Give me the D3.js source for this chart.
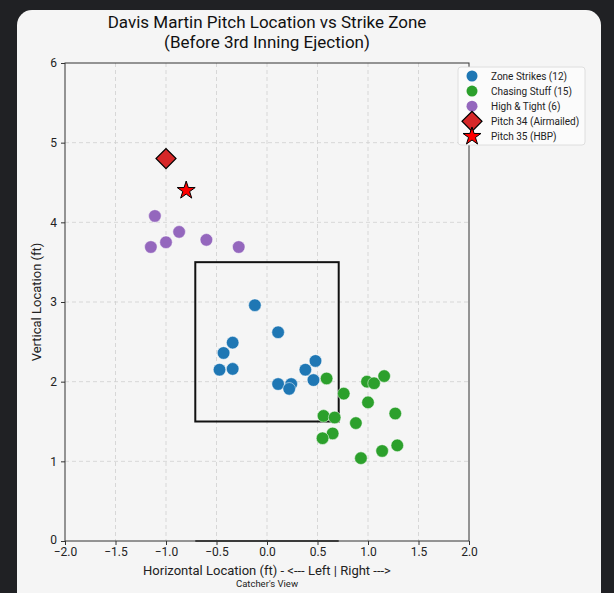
<!DOCTYPE html>
<html>
<head>
<meta charset="utf-8">
<script src="https://cdn.jsdelivr.net/npm/d3@7"></script>
<style>
  html, body { margin: 0; padding: 0; background: #202124; }
  svg { display: block; font-family: Roboto, "Noto Sans", sans-serif; }
</style>
</head>
<body>
<div id="chart"></div>
<script>
// pitch locations (ft)
var zoneX = [-0.12, 0.11, -0.34, -0.43, -0.47, -0.34, 0.11, 0.24, 0.22, 0.38, 0.48, 0.46];
var zoneY = [2.96, 2.62, 2.49, 2.36, 2.15, 2.16, 1.97, 1.97, 1.91, 2.15, 2.26, 2.02];
var chaseX = [0.59, 0.99, 1.06, 1.16, 0.76, 1.00, 1.27, 0.56, 0.67, 0.88, 0.65, 0.55, 1.29, 1.14, 0.93];
var chaseY = [2.04, 2.00, 1.98, 2.07, 1.85, 1.74, 1.60, 1.57, 1.55, 1.48, 1.35, 1.29, 1.20, 1.13, 1.04];
var highX = [-1.11, -1.15, -1.00, -0.87, -0.60, -0.28];
var highY = [4.08, 3.69, 3.75, 3.88, 3.78, 3.69];
var pitch34 = [-1.0, 4.8];
var pitch35 = [-0.8, 4.4];
var zoneBox = { left: -0.71, right: 0.71, bottom: 1.5, top: 3.5 };
var xTicks = [-2.0, -1.5, -1.0, -0.5, 0.0, 0.5, 1.0, 1.5, 2.0];
var yTicks = [0, 1, 2, 3, 4, 5, 6];
var legendLabels = ["Zone Strikes (12)", "Chasing Stuff (15)", "High & Tight (6)", "Pitch 34 (Airmailed)", "Pitch 35 (HBP)"];

function init() {
  var W = 614, H = 593;
  var m = { left: 65, right: 145, top: 63, bottom: 52 };
  var w = W - m.left - m.right;
  var h = H - m.top - m.bottom;

  var svg = d3.select("#chart").append("svg")
    .attr("width", W).attr("height", H);

  // light panel on dark page
  svg.append("rect")
    .attr("x", 17).attr("y", 10)
    .attr("width", 584).attr("height", 600)
    .attr("rx", 15).attr("fill", "#f5f5f5");

  var x = d3.scaleLinear().domain([-2, 2]).range([0, w]);
  var y = d3.scaleLinear().domain([0, 6]).range([h, 0]);

  var g = svg.append("g").attr("transform", "translate(" + m.left + "," + m.top + ")");

  // grid
  g.append("g").selectAll("line").data(xTicks.slice(1, -1)).enter().append("line")
    .attr("x1", function(d) { return x(d); }).attr("x2", function(d) { return x(d); })
    .attr("y1", 0).attr("y2", h)
    .attr("stroke", "#cfcfcf").attr("stroke-dasharray", "4,3").attr("stroke-width", 0.8);
  g.append("g").selectAll("line").data(yTicks.slice(1, -1)).enter().append("line")
    .attr("y1", function(d) { return y(d); }).attr("y2", function(d) { return y(d); })
    .attr("x1", 0).attr("x2", w)
    .attr("stroke", "#cfcfcf").attr("stroke-dasharray", "4,3").attr("stroke-width", 0.8);

  // strike zone
  g.append("rect")
    .attr("x", x(zoneBox.left)).attr("y", y(zoneBox.top))
    .attr("width", x(zoneBox.right) - x(zoneBox.left))
    .attr("height", y(zoneBox.bottom) - y(zoneBox.top))
    .attr("fill", "none").attr("stroke", "#111").attr("stroke-width", 2);

  // home plate
  g.append("line")
    .attr("x1", x(zoneBox.left)).attr("x2", x(zoneBox.right))
    .attr("y1", y(0)).attr("y2", y(0))
    .attr("stroke", "#444").attr("stroke-width", 2);

  // axes
  var xAxis = d3.axisBottom(x).tickValues(xTicks).tickFormat(d3.format(".1f")).tickSize(4).tickSizeOuter(0);
  var yAxis = d3.axisLeft(y).tickValues(yTicks).tickFormat(d3.format("d")).tickSize(4).tickSizeOuter(0);
  var gx = g.append("g").attr("transform", "translate(0," + h + ")").call(xAxis);
  var gy = g.append("g").call(yAxis);
  [gx, gy].forEach(function(a) {
    a.select(".domain").remove();
    a.selectAll("text").attr("font-size", 12).attr("fill", "#222")
      .attr("font-family", "Roboto, sans-serif");
    a.selectAll("line").attr("stroke", "#333");
  });
  gx.selectAll("text").attr("dy", "0.7em")
    .text(function(d) { return d3.format(".1f")(d).replace("-", "\u2212"); });
  gy.selectAll("text").attr("x", -8)
    .attr("dy", function(d) { return d === 0 ? "0.2em" : "0.32em"; });
  g.append("rect").attr("x", 0).attr("y", 0).attr("width", w).attr("height", h)
    .attr("fill", "none").attr("stroke", "#333").attr("stroke-width", 1);

  function pts(xs, ys) { return xs.map(function(v, i) { return [v, ys[i]]; }); }
  var groups = [
    { data: pts(zoneX, zoneY), color: "#1f77b4" },
    { data: pts(chaseX, chaseY), color: "#2ca02c" },
    { data: pts(highX, highY), color: "#9467bd" }
  ];
  groups.forEach(function(s) {
    g.append("g").selectAll("circle").data(s.data).enter().append("circle")
      .attr("cx", function(d) { return x(d[0]); })
      .attr("cy", function(d) { return y(d[1]); })
      .attr("r", 6.3)
      .attr("fill", s.color).attr("stroke", "#fff").attr("stroke-width", 0.5);
  });

  var diamond = d3.symbol().type(d3.symbolSquare).size(200);
  var star = d3.symbol().type(d3.symbolStar).size(100);

  g.append("path").attr("d", diamond())
    .attr("transform", "translate(" + x(pitch34[0]) + "," + y(pitch34[1]) + ") rotate(45)")
    .attr("fill", "#d62728").attr("stroke", "#000").attr("stroke-width", 1.2);
  g.append("path").attr("d", star())
    .attr("transform", "translate(" + x(pitch35[0]) + "," + y(pitch35[1]) + ")")
    .attr("fill", "#ff0000").attr("stroke", "#000").attr("stroke-width", 1);

  // labels
  svg.append("text").attr("x", m.left + w / 2).attr("y", 28)
    .attr("text-anchor", "middle").attr("font-size", 17).attr("fill", "#111")
    .text("Davis Martin Pitch Location vs Strike Zone");
  svg.append("text").attr("x", m.left + w / 2).attr("y", 48)
    .attr("text-anchor", "middle").attr("font-size", 17).attr("fill", "#111")
    .text("(Before 3rd Inning Ejection)");
  svg.append("text").attr("x", m.left + w / 2).attr("y", 575)
    .attr("text-anchor", "middle").attr("font-size", 13).attr("fill", "#222")
    .text("Horizontal Location (ft) - <--- Left | Right --->");
  svg.append("text").attr("x", m.left + w / 2).attr("y", 587)
    .attr("text-anchor", "middle").attr("font-size", 9.5).attr("fill", "#222")
    .text("Catcher's View");
  svg.append("text")
    .attr("transform", "translate(41," + (m.top + h / 2) + ") rotate(-90)")
    .attr("text-anchor", "middle").attr("font-size", 13).attr("fill", "#222")
    .text("Vertical Location (ft)");

  // legend
  var lg = svg.append("g").attr("transform", "translate(458,67)");
  lg.append("rect").attr("width", 127).attr("height", 78).attr("rx", 3)
    .attr("fill", "#fbfbfb").attr("stroke", "#d8d8d8").attr("stroke-width", 0.8);
  var colors = ["#1f77b4", "#2ca02c", "#9467bd"];
  legendLabels.forEach(function(t, i) {
    var cy = 9 + i * 15.1;
    if (i < 3) {
      lg.append("circle").attr("cx", 14).attr("cy", cy).attr("r", 5.5).attr("fill", colors[i]);
    } else if (i === 3) {
      lg.append("path").attr("d", diamond())
        .attr("transform", "translate(14," + cy + ") rotate(45)")
        .attr("fill", "#d62728").attr("stroke", "#000").attr("stroke-width", 1.2);
    } else {
      lg.append("path").attr("d", star())
        .attr("transform", "translate(14," + cy + ")")
        .attr("fill", "#ff0000").attr("stroke", "#000").attr("stroke-width", 1);
    }
    lg.append("text").attr("x", 33).attr("y", cy + 3.5)
      .attr("font-size", 10).attr("fill", "#222").text(t);
  });
}

window.onload = init;
</script>
</body>
</html>
